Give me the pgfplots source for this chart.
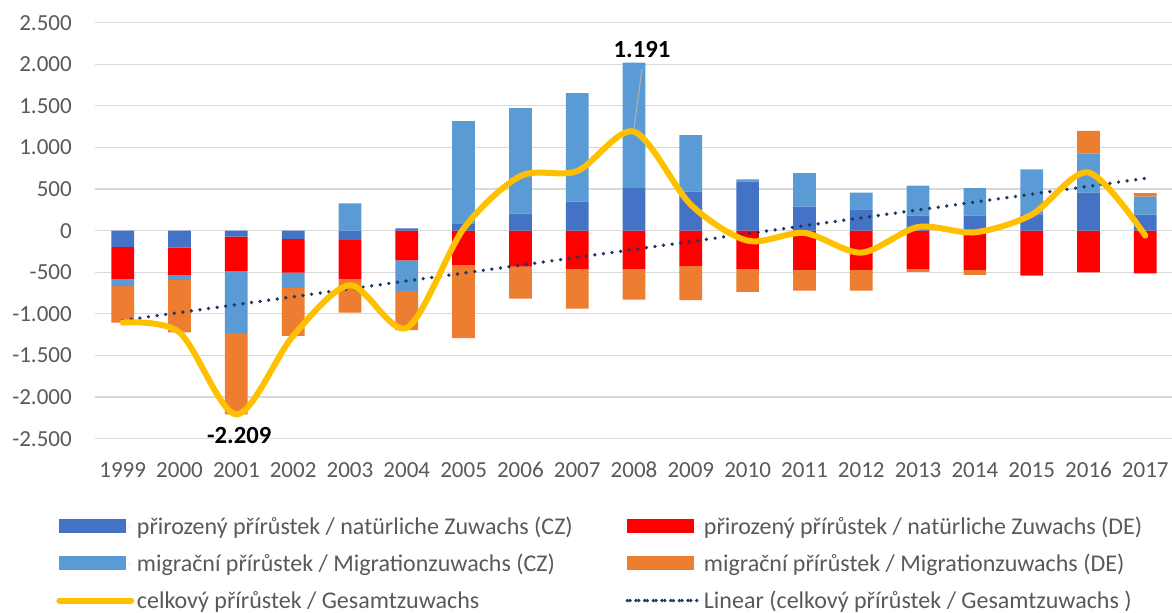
\documentclass[border=0pt]{standalone}
\usepackage{pgfplots}
\usepackage{pgfplotstable}
\pgfplotsset{compat=1.18}
\usepackage{fontspec}
\setmainfont{Carlito}

\definecolor{cznat}{HTML}{4472C4}
\definecolor{denat}{HTML}{FF0000}
\definecolor{czmig}{HTML}{5B9BD5}
\definecolor{demig}{HTML}{ED7D31}
\definecolor{celk}{HTML}{FFC000}
\definecolor{trend}{HTML}{203864}
\definecolor{txt}{HTML}{595959}
\definecolor{gridc}{HTML}{D9D9D9}

% prirustky obyvatel, CZ a DE
\pgfplotstableread{
x year cznat denat czmig demig total
0  1999 -196 -384 -88  -436 -1104
1  2000 -204 -328 -60  -632 -1224
2  2001 -72  -412 -744 -981 -2209
3  2002 -100 -404 -184 -576 -1264
4  2003 -112 -468 328  -404 -656
5  2004 28   -356 -372 -468 -1168
6  2005 88   -412 1228 -880 24
7  2006 204  -432 1268 -384 656
8  2007 348  -460 1304 -476 716
9  2008 512  -460 1507 -368 1191
10 2009 468  -424 680  -412 312
11 2010 588  -460 28   -276 -120
12 2011 288  -472 404  -248 -28
13 2012 256  -472 200  -248 -264
14 2013 180  -460 360  -36  44
15 2014 180  -472 332  -60  -20
16 2015 196  -536 540  -8   192
17 2016 456  -500 472  272  700
18 2017 192  -512 216  44   -60
}\popdata

\pgfplotsset{
  base/.style={
    scale only axis, width=807.75pt, height=312pt,
    xmin=-0.488, xmax=18.47, ymin=-2500, ymax=2500,
  },
  legbar/.style={legend image code/.code={
      \fill[##1] (0pt,-5.25pt) rectangle (50pt,5.25pt);
      \path (0pt,0pt) -- (54pt,0pt);}},
  legline/.style={legend image code/.code={
      \draw[##1] (2pt,0pt) -- (50pt,0pt);
      \path (0pt,0pt) -- (54pt,0pt);}},
}

\begin{document}
\begin{tikzpicture}
% zaporne casti + mrizka
\begin{axis}[base, ybar stacked, bar width=0.4,
  axis line style={draw=none}, major tick length=0pt,
  ymajorgrids, grid style={gridc, line width=0.9pt},
  xtick={0,...,18},
  xticklabels={1999,2000,2001,2002,2003,2004,2005,2006,2007,2008,2009,2010,2011,2012,2013,2014,2015,2016,2017},
  ytick={-2500,-2000,-1500,-1000,-500,0,500,1000,1500,2000,2500},
  yticklabels={-2.500,-2.000,-1.500,-1.000,-500,0,500,1.000,1.500,2.000,2.500},
  tick label style={font=\fontsize{17.25}{20}\selectfont, text=txt},
  xticklabel style={inner sep=0pt, anchor=north, text height=11pt, yshift=-18pt},
  yticklabel style={inner sep=0pt, anchor=east, xshift=-17.25pt},
]
\addplot[fill=cznat, draw=none] table[x=x, y expr={min(\thisrow{cznat},0)}] {\popdata};
\addplot[fill=denat, draw=none] table[x=x, y expr={min(\thisrow{denat},0)}] {\popdata};
\addplot[fill=czmig, draw=none] table[x=x, y expr={min(\thisrow{czmig},0)}] {\popdata};
\addplot[fill=demig, draw=none] table[x=x, y expr={min(\thisrow{demig},0)}] {\popdata};
\end{axis}

% kladne casti + legenda
\begin{axis}[base, ybar stacked, bar width=0.4, hide axis,
  legend columns=2, legend cell align=left,
  legend style={draw=none, fill=none, inner sep=0pt,
    at={(-0.0362,-0.180)}, anchor=north west,
    font=\fontsize{18}{21}\selectfont, text=txt,
    row sep=9.2pt, /tikz/column 2/.style={column sep=37.5pt}},
]
\addplot[fill=cznat, draw=none, legbar] table[x=x, y expr={max(\thisrow{cznat},0)}] {\popdata};
\addlegendentry{přirozený přírůstek / natürliche Zuwachs (CZ)}
\addplot[fill=denat, draw=none, legbar] table[x=x, y expr={max(\thisrow{denat},0)}] {\popdata};
\addlegendentry{přirozený přírůstek / natürliche Zuwachs (DE)}
\addplot[fill=czmig, draw=none, legbar] table[x=x, y expr={max(\thisrow{czmig},0)}] {\popdata};
\addlegendentry{migrační přírůstek / Migrationzuwachs (CZ)}
\addplot[fill=demig, draw=none, legbar] table[x=x, y expr={max(\thisrow{demig},0)}] {\popdata};
\addlegendentry{migrační přírůstek / Migrationzuwachs (DE)}
\addlegendimage{celk, line width=4.5pt, line cap=round, legline}
\addlegendentry{celkový přírůstek / Gesamtzuwachs}
\addlegendimage{trend, line width=2.8pt, line cap=round, dash pattern=on 0pt off 6.5pt, legline}
\addlegendentry{Linear (celkový přírůstek / Gesamtzuwachs )}
\end{axis}

% celkovy prirustek a trend
\begin{axis}[base, hide axis, clip=false]
\addplot[trend, line width=2.8pt, line cap=round, dash pattern=on 0pt off 6.5pt]
  table[x=x, y={create col/linear regression={x=x, y=total}}] {\popdata};
\addplot[celk, line width=4.5pt, smooth, line cap=round, line join=round]
  table[x=x, y=total] {\popdata};
\draw[gray!60, line width=0.75pt] (axis cs:9.14,1944) -- (axis cs:9.0,1230);
\node[font=\bfseries\fontsize{18.5}{20}\selectfont] at (axis cs:2.05,-2456) {-2.209};
\node[font=\bfseries\fontsize{18.5}{20}\selectfont] at (axis cs:9.14,2172) {1.191};
\end{axis}

\pgfresetboundingbox
\path (-71.25pt,-130.7pt) rectangle (807.75pt,329pt);
\end{tikzpicture}
\end{document}
